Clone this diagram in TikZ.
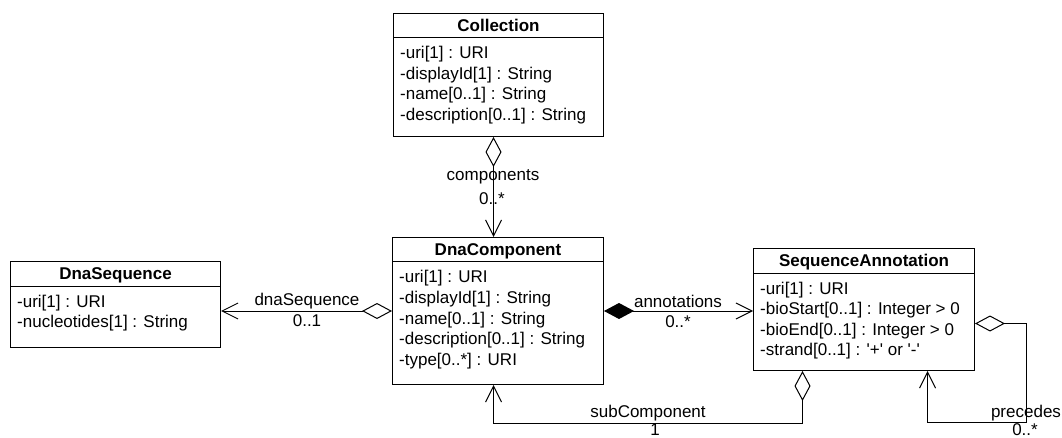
\documentclass[tikz,border=0pt]{standalone}
\usepackage{fontspec}
\setmainfont{Liberation Sans}[Ligatures=TeXOff]
\usetikzlibrary{arrows.meta}

\begin{document}
\begin{tikzpicture}[x=1pt, y=-1pt,
  classbox/.style={draw, line width=1pt, inner sep=0pt, anchor=north west},
  classname/.style={font=\bfseries\fontsize{17}{20}\selectfont, anchor=base, inner sep=0pt},
  attr/.style={font=\fontsize{17}{20}\selectfont, anchor=base west, inner sep=0pt},
  lbl/.style={font=\fontsize{17}{20}\selectfont, inner sep=0pt},
  assoc/.style={line width=1pt},
  aggr/.style={assoc, {Diamond[open, length=30pt, width=16pt]}-{Straight Barb[length=16pt, width=16pt]}},
  comp/.style={assoc, {Diamond[length=30pt, width=16pt]}-{Straight Barb[length=16pt, width=16pt]}}
]
\fill[white] (0,0) rectangle (1062,438);
\useasboundingbox (0,0) rectangle (1062,438);

% Collection
\node[classbox, minimum width=210pt, minimum height=123pt] (coll) at (393,13) {};
\draw[line width=1pt] ([yshift=-25pt]coll.north west) -- ([yshift=-25pt]coll.north east);
\node[classname] (coll-t) at ([yshift=-18.5pt]coll.north) {Collection};
\foreach \t [count=\i] in {-uri[1] : URI, -displayId[1] : String, -name[0..1] : String, -description[0..1] : String}
  \node[attr] (coll-\i) at ([xshift=7pt, yshift=-46pt-20.5pt*(\i-1)]coll.north west) {\t};

% DnaComponent
\node[classbox, minimum width=211pt, minimum height=147pt] (comp) at (392,237) {};
\draw[line width=1pt] ([yshift=-25pt]comp.north west) -- ([yshift=-25pt]comp.north east);
\node[classname] (comp-t) at ([yshift=-18.5pt]comp.north) {DnaComponent};
\foreach \t [count=\i] in {-uri[1] : URI, -displayId[1] : String, -name[0..1] : String, -description[0..1] : String, -type[0..*] : URI}
  \node[attr] (comp-\i) at ([xshift=7pt, yshift=-46pt-20.5pt*(\i-1)]comp.north west) {\t};

% DnaSequence
\node[classbox, minimum width=210pt, minimum height=86pt] (seq) at (10,261) {};
\draw[line width=1pt] ([yshift=-25pt]seq.north west) -- ([yshift=-25pt]seq.north east);
\node[classname] (seq-t) at ([yshift=-18.5pt]seq.north) {DnaSequence};
\foreach \t [count=\i] in {-uri[1] : URI, -nucleotides[1] : String}
  \node[attr] (seq-\i) at ([xshift=7pt, yshift=-46pt-20.5pt*(\i-1)]seq.north west) {\t};

% SequenceAnnotation
\node[classbox, minimum width=221pt, minimum height=122pt] (ann) at (753,248) {};
\draw[line width=1pt] ([yshift=-25pt]ann.north west) -- ([yshift=-25pt]ann.north east);
\node[classname] (ann-t) at ([yshift=-18.5pt]ann.north) {SequenceAnnotation};
\foreach \t [count=\i] in {-uri[1] : URI, -bioStart[0..1] : Integer > 0, -bioEnd[0..1] : Integer > 0, -strand[0..1] : '+' or '-'}
  \node[attr] (ann-\i) at ([xshift=7pt, yshift=-46pt-20.5pt*(\i-1)]ann.north west) {\t};

% Collection -> DnaComponent
\draw[aggr] ([xshift=-5pt]coll.south) -- ([xshift=-4.5pt]comp.north);
\node[lbl] (l-components) at (493,177) {components};
\node[lbl] (m-components) at (492,199) {0..*};

% DnaComponent -> DnaSequence
\draw[aggr] (comp.west) -- (comp.west -| seq.east);
\node[lbl] (l-dnaseq) at (307,301) {dnaSequence};
\node[lbl] (m-dnaseq) at (307,321) {0..1};

% DnaComponent -> SequenceAnnotation
\draw[comp] (comp.east) -- (comp.east -| ann.west);
\node[lbl] (l-annot) at (678,301) {annotations};
\node[lbl] (m-annot) at (678,322) {0..*};

% SequenceAnnotation -> DnaComponent
\draw[aggr] ([xshift=-61.5pt]ann.south) -- ++(0,52) -| ([xshift=-4.5pt]comp.south);
\node[lbl] (l-sub) at (648,413) {subComponent};
\node[lbl] (m-sub) at (655,429.5) {1};

% SequenceAnnotation -> SequenceAnnotation
\draw[aggr] ([yshift=-14pt]ann.east) -- ++(51,0) -- ++(0,99) -| ([xshift=63.5pt]ann.south);
\node[lbl] (l-prec) at (1026,413) {precedes};
\node[lbl] (m-prec) at (1025,429.5) {0..*};
\end{tikzpicture}
\end{document}
